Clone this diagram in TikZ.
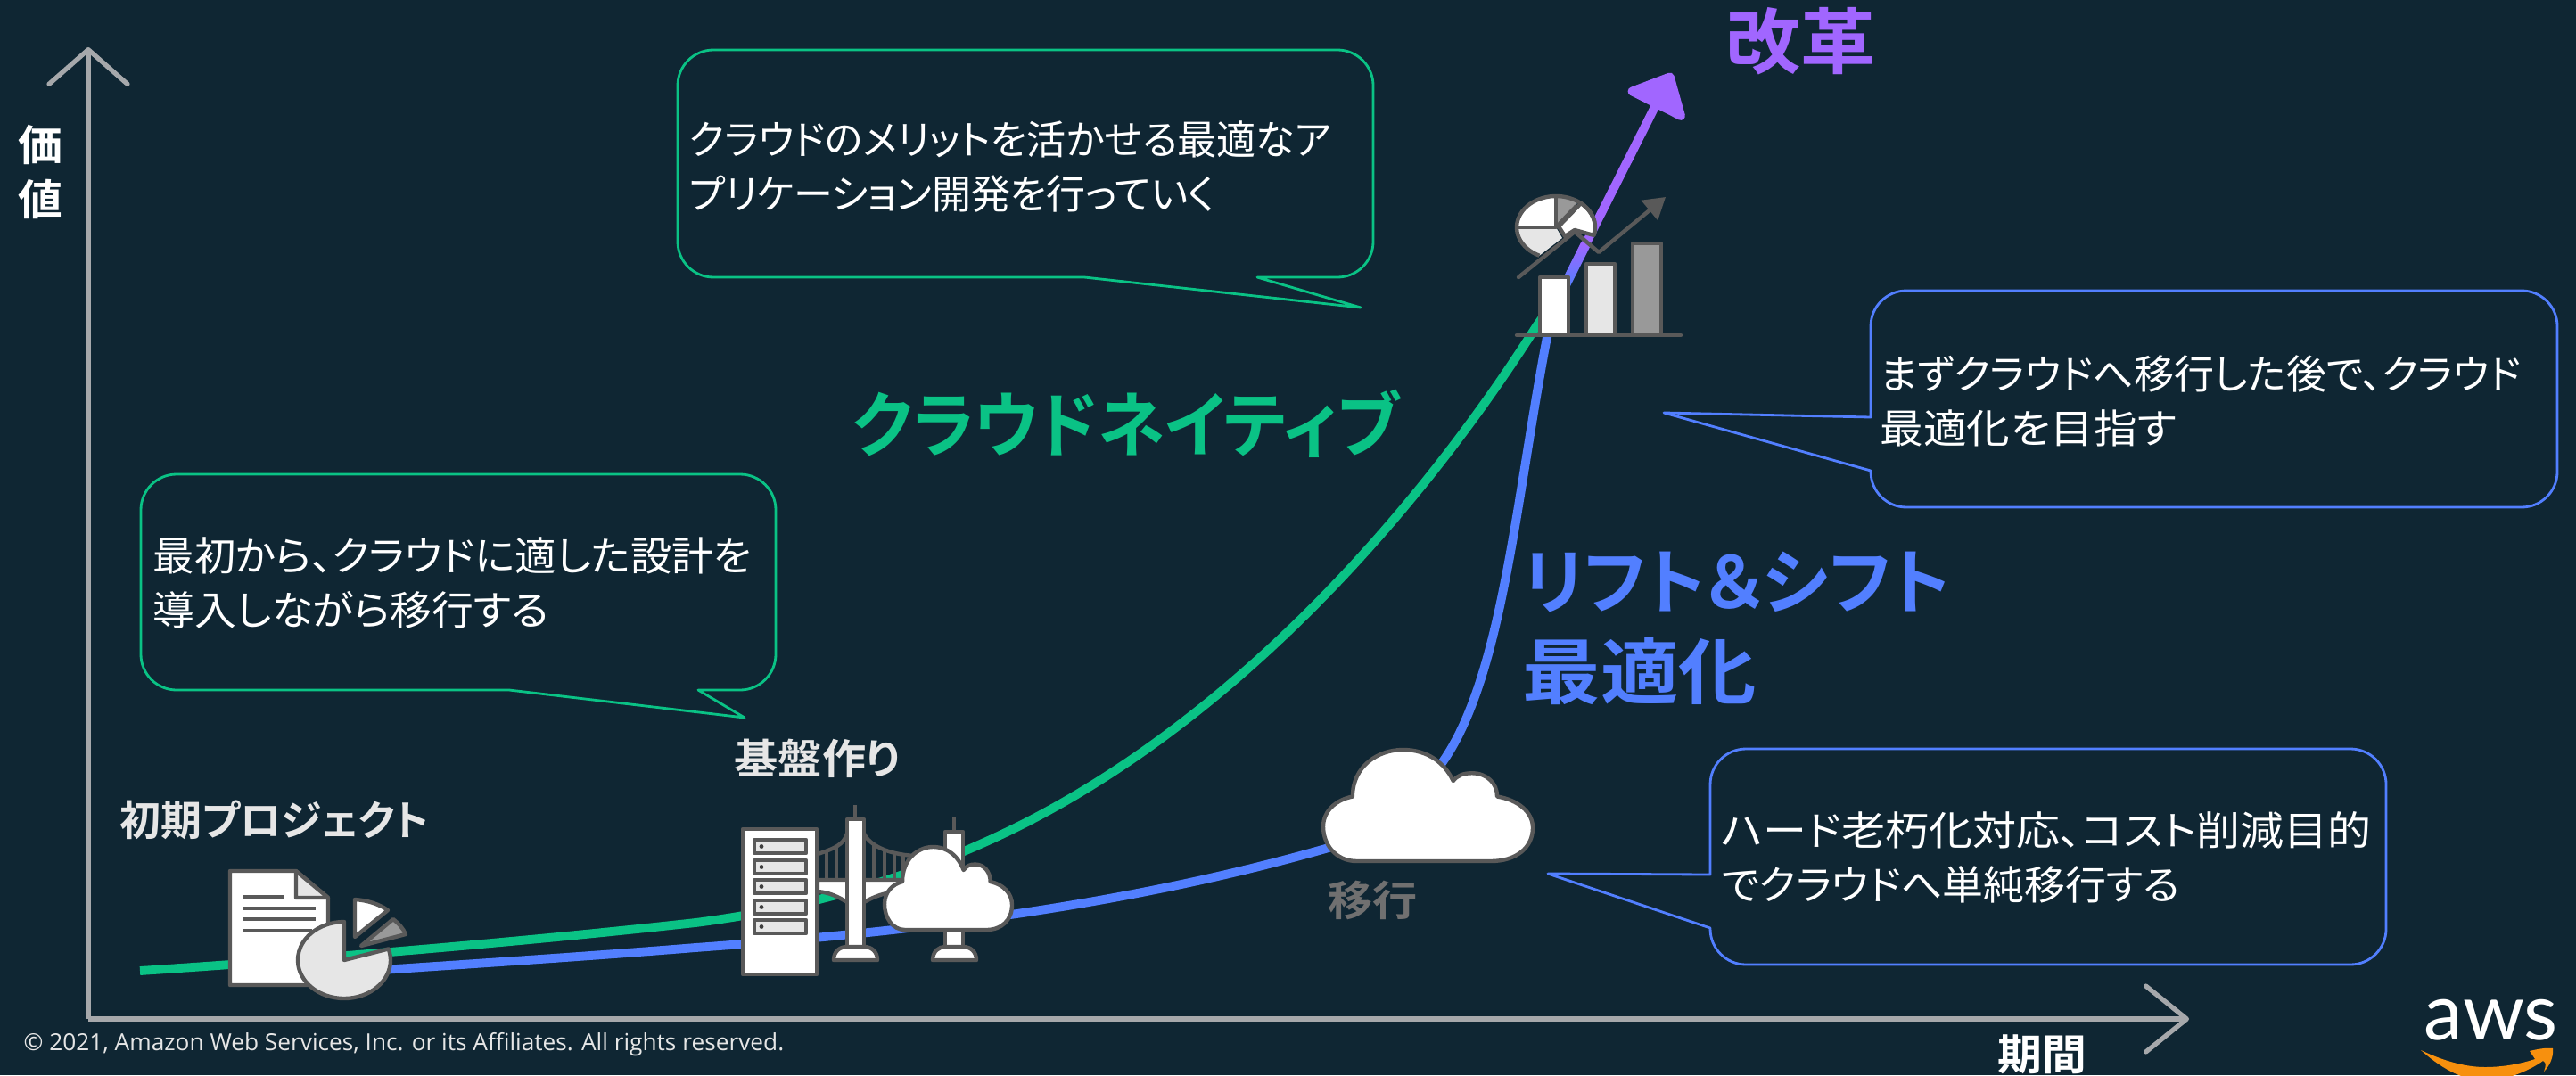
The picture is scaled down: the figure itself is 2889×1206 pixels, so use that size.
\documentclass[tikz,border=0pt]{standalone}
\usepackage{fontspec}
\usetikzlibrary{arrows.meta}
\newfontfamily\jpfont[RawFeature={+palt}]{Noto Sans CJK JP}
\newfontfamily\jpbold[RawFeature={+palt}]{Noto Sans CJK JP Bold}
\newfontfamily\notefont{Open Sans}
\newfontfamily\logofont{Lato}
\newcommand{\fitline}[2]{{\addfontfeature{FakeStretch=#1}#2}}
\definecolor{bgdark}{HTML}{0F2633}
\definecolor{linegreen}{HTML}{0AC285}
\definecolor{lineblue}{HTML}{527FFF}
\definecolor{linepurple}{HTML}{A166FF}
\definecolor{axisgrey}{HTML}{A6A8AB}
\definecolor{icongrey}{HTML}{595959}
\definecolor{labelgrey}{HTML}{707070}
\definecolor{iconlight}{HTML}{E6E6E6}
\definecolor{iconmid}{HTML}{999999}
\definecolor{smileorange}{HTML}{F7900E}
\tikzset{
  curvegreen/.style={draw=linegreen, line width=2.8pt},
  curveblue/.style={draw=lineblue, line width=2.8pt},
  axisline/.style={draw=axisgrey, line width=1.5pt},
  bubblegreen/.style={draw=linegreen, line width=0.8pt, line join=round},
  bubbleblue/.style={draw=lineblue, line width=0.8pt, line join=round},
  bubbletext/.style={anchor=west, inner sep=0pt, align=left, text=white,
    font=\jpfont\fontsize{12.8}{17.35}\selectfont},
  headline/.style={anchor=west, inner sep=0pt, align=left,
    font=\jpbold\fontsize{22.8}{28.7}\selectfont},
  steplabel/.style={anchor=west, inner sep=0pt,
    font=\jpbold\fontsize{13.2}{15}\selectfont},
  iconline/.style={draw=icongrey, line width=1.25pt, line join=round},
  cloudicon/.pic={
    \filldraw[iconline, fill=white] (16,100) .. controls (6,100) and (0,85) .. (0,69)
      .. controls (0,55) and (6,45) .. (14,42) .. controls (14,15) and (26,0) .. (38,0)
      .. controls (50,0) and (58,12) .. (62,28) .. controls (64,23) and (67,21) .. (71,21)
      .. controls (78,21) and (83,30) .. (83,42) .. controls (93,45) and (100,56) .. (100,70)
      .. controls (100,88) and (92,100) .. (80,100) -- cycle;
  }
}

\begin{document}
\begin{tikzpicture}[x=0.01cm, y=-0.01cm]
\useasboundingbox (0,0) rectangle (2889,1206);
\fill[bgdark] (0,0) rectangle (2889,1206);

% Axes
\coordinate (O) at (99,1143);
\coordinate (Vtip) at (99,53);
\coordinate (Htip) at (2455,1143);
\draw[axisline, -{Straight Barb[round,length=11pt,width=25pt]}] (O) -- (Vtip);
\draw[axisline, -{Straight Barb[round,length=13pt,width=21pt]}] (O) -- (Htip);
\node (value) [anchor=center, text=white, align=center, inner sep=0pt,
  font=\jpbold\fontsize{13.5}{17.5}\selectfont] at (45,193) {\fitline{1.05}{価}\\\fitline{1.05}{値}};
\node (period) [anchor=center, text=white, inner sep=0pt,
  font=\jpbold\fontsize{13.5}{15}\selectfont] at (2290,1183) {\fitline{1.05}{期間}};

% Curves
\coordinate (Gstart) at (157,1089);
\coordinate (Gmid) at (780,1035);
\coordinate (Gturn) at (1150,923);
\coordinate (Gtop) at (1723,366);
\coordinate (Bstart) at (300,1097);
\coordinate (Bmid) at (780,1063);
\coordinate (Bcloud) at (1490,951);
\coordinate (Bexit) at (1617,856);
\coordinate (Btop) at (1735,378);
\coordinate (J) at (1755,320);
\coordinate (K) at (1875,82);
\draw[curvegreen] (Gstart) .. controls (370,1075) and (600,1055) .. (Gmid)
  .. controls (900,1020) and (1030,984) .. (Gturn)
  .. controls (1400,795) and (1600,560) .. (Gtop) -- (J);
\draw[curveblue] (Bstart) .. controls (450,1086) and (620,1076) .. (Bmid)
  .. controls (1000,1047) and (1250,1020) .. (Bcloud)
  .. controls (1550,935) and (1590,905) .. (Bexit)
  .. controls (1685,760) and (1700,560) .. (Btop) -- (J);
\draw[draw=linepurple, line width=2.8pt, -{Triangle[round,length=13pt,width=23pt]}] (J) -- (K);
\shade[bottom color=lineblue, top color=linepurple] (1750,318) -- (1760,323) -- (1783,277) -- (1773,272) -- cycle;

% Callouts
\draw[bubblegreen] (1216,311) -- (1526,345) -- (1410,311) -- (1420,311) [rounded corners=0.4cm] -- (1540,311) -- (1540,56) -- (760,56) -- (760,311) -- (1000,311) [sharp corners] -- cycle;
\node (noteA) [bubbletext] at (772,187) {\fitline{0.98}{クラウドのメリットを活かせる最適なア}\\\fitline{0.977}{プリケーション開発を行っていく}};
\draw[bubbleblue] (2098,468) -- (1866,463) -- (2098,528) -- (2098,530) [rounded corners=0.4cm] -- (2098,569) -- (2868,569) -- (2868,326) -- (2098,326) -- (2098,420) [sharp corners] -- cycle;
\node (noteB) [bubbletext] at (2108,450) {\fitline{1.0}{まずクラウドへ移行した後で、クラウド}\\\fitline{1.08}{最適化を目指す}};
\draw[bubblegreen] (571,774) -- (835,805) -- (783,774) -- (790,774) [rounded corners=0.4cm] -- (870,774) -- (870,532) -- (158,532) -- (158,774) -- (400,774) [sharp corners] -- cycle;
\node (noteC) [bubbletext] at (171,654) {\fitline{1.03}{最初から、クラウドに適した設計を}\\\fitline{1.04}{導入しながら移行する}};
\draw[bubbleblue] (1918,981) -- (1736,980) -- (1918,1041) -- (1918,1042) [rounded corners=0.4cm] -- (1918,1082) -- (2676,1082) -- (2676,840) -- (1918,840) -- (1918,930) [sharp corners] -- cycle;
\node (noteD) [bubbletext] at (1930,962) {\fitline{1.09}{ハード老朽化対応、コスト削減目的}\\\fitline{1.02}{でクラウドへ単純移行する}};

% Labels
\node (reform) [headline, text=linepurple] at (1935,46) {\fitline{1.05}{改革}};
\node (native) [headline, text=linegreen] at (955,475) {\fitline{0.945}{クラウドネイティブ}};
\node (shift) [headline, text=lineblue] at (1707,705) {\fitline{0.99}{リフト＆シフト}\\\fitline{1.09}{最適化}};
\node (first) [steplabel, text=iconlight] at (134,920) {\fitline{0.99}{初期プロジェクト}};
\node (base) [steplabel, text=iconlight] at (823,851) {\fitline{1.06}{基盤作り}};
\node (move) [steplabel, text=labelgrey] at (1489,1010) {\fitline{1.08}{移行}};

% Document and pie
\filldraw[iconline, fill=white] (258,977) -- (332,977) -- (368,1007) -- (368,1105) -- (258,1105) -- cycle;
\filldraw[iconline, fill=iconlight] (332,977) -- (332,1007) -- (368,1007) -- cycle;
\foreach \ly/\lx in {1006/318, 1019/354, 1031/354, 1044/350}
  \draw[icongrey, line width=1.4pt] (273,\ly) -- (\lx,\ly);
\filldraw[iconline, fill=iconlight] (386,1077) -- ++(-17:52 and 43) arc[start angle=-17, end angle=270, x radius=52, y radius=43] -- cycle;
\filldraw[iconline, fill=white] (398,1009) .. controls (412,1010) and (425,1014) .. (435,1021) -- (398,1051) -- cycle;
\filldraw[iconline, fill=iconmid] (441,1031) .. controls (447,1036) and (452,1041) .. (455,1048) -- (405,1061) -- cycle;

% Bridge
\filldraw[iconline, fill=white] (917,987) -- (1020,987) -- (1020,998) -- (1005,1000) .. controls (990,1002) and (980,1006) .. (969,1012) -- (950,1012) .. controls (940,1006) and (930,1001) .. (917,1000) -- cycle;
\foreach \hx/\hy in {927/953, 938/948, 980/948, 992/955, 1003/958, 1013/960}
  \draw[iconline] (\hx,\hy) -- (\hx,987);
\draw[iconline] (917,958) .. controls (935,952) and (946,948) .. (950,935);
\draw[iconline] (969,935) .. controls (975,948) and (995,958) .. (1025,960);
\draw[iconline] (959,903) -- (959,919);
\draw[iconline] (1070,917) -- (1070,933);
\filldraw[iconline, fill=white] (950,919) rectangle (969,1062);
\filldraw[iconline, fill=white] (1060,933) rectangle (1080,1062);
\filldraw[iconline, fill=white] (935,1077) .. controls (935,1067) and (942,1062) .. (950,1062) -- (969,1062) .. controls (977,1062) and (984,1067) .. (984,1077) -- cycle;
\filldraw[iconline, fill=white] (1046,1077) .. controls (1046,1067) and (1053,1062) .. (1060,1062) -- (1080,1062) .. controls (1088,1062) and (1095,1067) .. (1095,1077) -- cycle;

% Server
\filldraw[iconline, fill=white] (833,930) rectangle (916,1093);
\foreach \sy in {942, 965, 987, 1010, 1032} {
  \filldraw[iconline, fill=iconlight] (846,\sy) rectangle (904,\sy+15);
  \fill[icongrey!70!black] (854,\sy+7.5) circle[radius=2.4];
}

% Clouds
\pic (cloudA) [xscale=1.43, yscale=0.93] at (992,950) {cloudicon};
\pic (cloudB) [xscale=2.35, yscale=1.25] at (1484,841) {cloudicon};

% Chart
\fill[white] (1745,255) -- ++(180:44 and 35) arc[start angle=180, end angle=270, x radius=44, y radius=35] -- cycle;
\fill[iconmid] (1745,255) -- ++(270:44 and 35) arc[start angle=270, end angle=305, x radius=44, y radius=35] -- cycle;
\fill[iconlight] (1745,255) -- ++(180:44 and 35) arc[start angle=180, end angle=115, x radius=44, y radius=35] -- (1752,267) -- cycle;
\filldraw[iconline, fill=white] (1748,254) -- (1773,228) arc[start angle=310, end angle=375, x radius=44, y radius=35] -- (1766,258) -- (1755,265) -- cycle;
\draw[iconline] (1745,255) ++(115:44 and 35) arc[start angle=115, end angle=375, x radius=44, y radius=35];
\draw[iconline] (1701,255) -- (1745,255) -- (1745,220);
\draw[iconline] (1745,255) -- (1768,231);
\draw[iconline, line cap=round, -{Triangle[length=6.7pt,width=8pt]}] (1703,311) -- (1766,260) -- (1793,283) -- (1868,221);
\filldraw[iconline, fill=white] (1727,311) rectangle (1759,376);
\filldraw[iconline, fill=iconlight] (1779,296) rectangle (1811,376);
\filldraw[iconline, fill=iconmid] (1831,273) rectangle (1863,376);
\draw[iconline, line cap=round] (1701,376) -- (1885,376);

% Footer
\node (rights) [anchor=west, inner sep=0pt, text=iconlight, font=\notefont\fontsize{7.47}{9}\selectfont] at (26,1172) {© 2021, Amazon Web Services, Inc. or its Affiliates. All rights reserved.};
\node (aws) [anchor=base west, inner sep=0pt, text=white, font=\logofont\fontsize{25}{30}\selectfont] at (2718,1166) {aws};
\fill[smileorange] (2715,1178) .. controls (2740,1190) and (2765,1197) .. (2787,1197) .. controls (2808,1197) and (2828,1193) .. (2843,1188) -- (2837,1179) .. controls (2845,1177) and (2855,1175) .. (2863,1176) .. controls (2864,1185) and (2860,1195) .. (2853,1202) .. controls (2855,1196) and (2856,1192) .. (2852,1190) .. controls (2835,1202) and (2810,1212) .. (2787,1212) .. controls (2760,1212) and (2735,1196) .. (2715,1178) -- cycle;
\end{tikzpicture}
\end{document}
